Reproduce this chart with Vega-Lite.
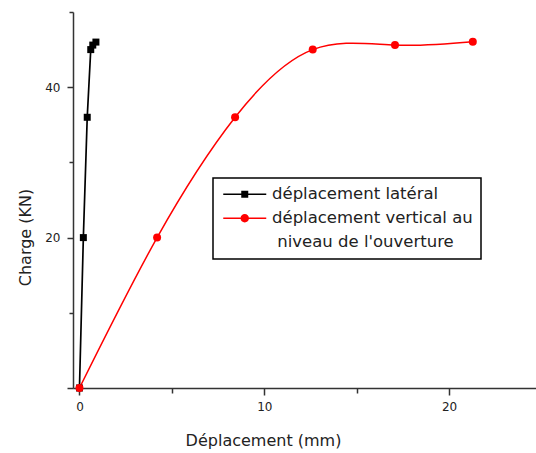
{
  "$schema": "https://vega.github.io/schema/vega-lite/v6.json",
  "width": 463,
  "height": 376,
  "autosize": {"type": "none"},
  "padding": {"left": 73, "top": 12, "right": 0, "bottom": 65},
  "config": {"view": {"stroke": null}, "font": "DejaVu Sans"},
  "data": {
    "values": [
      {"s": "lat", "x": 0, "y": 0},
      {"s": "lat", "x": 0.21, "y": 20},
      {"s": "lat", "x": 0.42, "y": 36},
      {"s": "lat", "x": 0.61, "y": 45},
      {"s": "lat", "x": 0.72, "y": 45.6},
      {"s": "lat", "x": 0.89, "y": 46},
      {"s": "vert", "x": 0, "y": 0},
      {"s": "vert", "x": 4.2, "y": 20},
      {"s": "vert", "x": 8.42, "y": 36},
      {"s": "vert", "x": 12.62, "y": 45},
      {"s": "vert", "x": 17.07, "y": 45.6},
      {"s": "vert", "x": 21.28, "y": 46.05}
    ]
  },
  "encoding": {
    "x": {
      "field": "x", "type": "quantitative",
      "scale": {"domain": [-0.35, 24.7], "nice": false, "zero": false},
      "axis": {
        "values": [0, 5, 10, 15, 20],
        "title": "Déplacement (mm)",
        "grid": false,
        "labelExpr": "datum.value % 10 == 0 ? datum.label : ''",
        "tickSize": {"condition": {"test": "datum.value % 10 == 0", "value": 7}, "value": 5},
        "labelPadding": 6,
        "labelFlush": false,
        "labelOverlap": false,
        "domainColor": "#333", "tickColor": "#333", "domainWidth": 1.5, "tickWidth": 1.5,
        "labelFont": "DejaVu Sans", "labelFontSize": 12, "labelColor": "#222",
        "titleFont": "DejaVu Sans", "titleFontSize": 16, "titleFontWeight": "normal", "titleColor": "#222",
        "titleX": 190, "titleY": 52, "titleBaseline": "middle", "titleAlign": "center"
      }
    },
    "y": {
      "field": "y", "type": "quantitative",
      "scale": {"domain": [0, 50], "nice": false},
      "axis": {
        "values": [0, 10, 20, 30, 40, 50],
        "title": "Charge (KN)",
        "grid": false,
        "labelExpr": "datum.value == 20 || datum.value == 40 ? datum.label : ''",
        "tickSize": {"condition": {"test": "datum.value % 20 == 0", "value": 6}, "value": 4},
        "labelPadding": 7,
        "labelOverlap": false,
        "labelFlush": false,
        "domainColor": "#333", "tickColor": "#333", "domainWidth": 1.5, "tickWidth": 1.5,
        "labelFont": "DejaVu Sans", "labelFontSize": 12, "labelColor": "#222",
        "titleFont": "DejaVu Sans", "titleFontSize": 16, "titleFontWeight": "normal", "titleColor": "#222",
        "titleX": -48, "titleY": 225, "titleBaseline": "middle", "titleAlign": "center"
      }
    }
  },
  "layer": [
    {
      "transform": [{"filter": "datum.s == 'lat'"}],
      "mark": {"type": "line", "color": "#000000", "strokeWidth": 1.7}
    },
    {
      "transform": [{"filter": "datum.s == 'vert'"}],
      "mark": {"type": "line", "color": "#ff0000", "strokeWidth": 1.5, "interpolate": "natural"}
    },
    {
      "transform": [{"filter": "datum.s == 'lat'"}],
      "mark": {"type": "point", "shape": "square", "filled": true, "color": "#000000", "size": 49, "opacity": 1}
    },
    {
      "transform": [{"filter": "datum.s == 'vert'"}],
      "mark": {"type": "point", "shape": "circle", "filled": true, "color": "#ff0000", "size": 64, "opacity": 1}
    },
    {
      "mark": {"type": "point", "filled": true, "opacity": 0},
      "encoding": {
        "color": {
          "field": "s", "type": "nominal",
          "scale": {"domain": ["lat", "vert"], "range": ["#000000", "#ff0000"]},
          "legend": {
            "title": null,
            "orient": "none",
            "legendX": 140,
            "legendY": 166,
            "strokeColor": "#000000",
            "fillColor": "#ffffff",
            "padding": 8,
            "symbolSize": 100,
            "symbolOffset": 15.5,
            "labelOffset": 19,
            "symbolOpacity": 1,
            "symbolStrokeWidth": 0,
            "labelFont": "DejaVu Sans",
            "labelFontSize": 16.5,
            "labelColor": "#222",
            "labelLimit": 400,
            "rowPadding": 7,
            "labelBaseline": "top",
            "labelExpr": "datum.value == 'lat' ? 'déplacement latéral' : ['déplacement vertical au', '\u200b\u00a0niveau de l\\'ouverture']",
            "encoding": {
              "labels": {"lineHeight": {"value": 24}, "dy": {"value": -8}},
              "legend": {"strokeWidth": {"value": 1.5}}
            }
          }
        },
        "shape": {
          "field": "s", "type": "nominal",
          "scale": {
            "domain": ["lat", "vert"],
            "range": [
              "M-4.3,-0.15H4.3V0.15H-4.3ZM-0.7,-0.7H0.7V0.7H-0.7Z",
              "M-4.3,-0.15H4.3V0.15H-4.3ZM-0.84,0A0.84,0.84,0,1,1,0.84,0A0.84,0.84,0,1,1,-0.84,0Z"
            ]
          },
          "legend": {
            "title": null,
            "orient": "none",
            "legendX": 140,
            "legendY": 166,
            "strokeColor": "#000000",
            "fillColor": "#ffffff",
            "padding": 8,
            "symbolSize": 100,
            "symbolOffset": 15.5,
            "labelOffset": 19,
            "symbolOpacity": 1,
            "symbolStrokeWidth": 0,
            "labelFont": "DejaVu Sans",
            "labelFontSize": 16.5,
            "labelColor": "#222",
            "labelLimit": 400,
            "rowPadding": 7,
            "labelBaseline": "top",
            "labelExpr": "datum.value == 'lat' ? 'déplacement latéral' : ['déplacement vertical au', '\u200b\u00a0niveau de l\\'ouverture']",
            "encoding": {
              "labels": {"lineHeight": {"value": 24}, "dy": {"value": -8}},
              "legend": {"strokeWidth": {"value": 1.5}}
            }
          }
        }
      }
    }
  ]
}
